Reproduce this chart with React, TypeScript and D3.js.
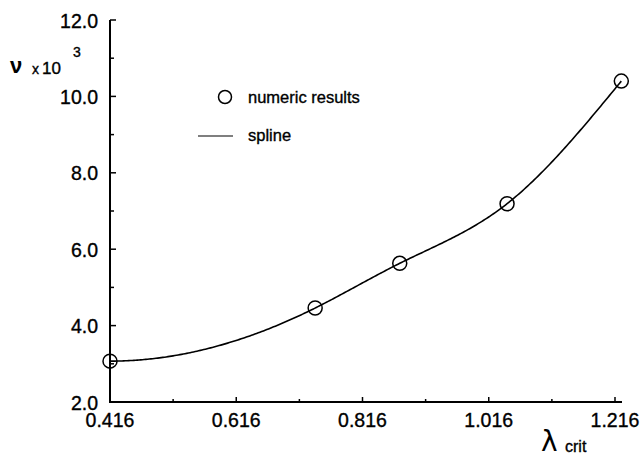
import React from "react";
import * as d3 from "d3";

const xTicks = [0.416, 0.616, 0.816, 1.016, 1.216];
const yTicks = [2.0, 4.0, 6.0, 8.0, 10.0, 12.0];
const lambdaVals = [0.416, 0.741, 0.875, 1.045, 1.226];
const nuVals = [3.07, 4.46, 5.63, 7.19, 10.4];

// cubic spline through the data: zero slope at the left end, natural at the right end
function splineSamples(xs: number[], ys: number[], count: number): [number, number][] {
  const n = xs.length;
  const h = xs.slice(0, -1).map((v, i) => xs[i + 1] - v);
  // build system A M = b (size n)
  const A: number[][] = Array.from({ length: n }, () => new Array(n).fill(0));
  const b: number[] = new Array(n).fill(0);
  A[0][0] = 2 * h[0];
  A[0][1] = h[0];
  b[0] = 6 * ((ys[1] - ys[0]) / h[0] - 0);
  for (let i = 1; i < n - 1; i++) {
    A[i][i - 1] = h[i - 1];
    A[i][i] = 2 * (h[i - 1] + h[i]);
    A[i][i + 1] = h[i];
    b[i] = 6 * ((ys[i + 1] - ys[i]) / h[i] - (ys[i] - ys[i - 1]) / h[i - 1]);
  }
  A[n - 1][n - 1] = 1;
  b[n - 1] = 0;
  // gaussian elimination
  for (let k = 0; k < n; k++) {
    for (let r = k + 1; r < n; r++) {
      const f = A[r][k] / A[k][k];
      if (f === 0) continue;
      for (let c = k; c < n; c++) A[r][c] -= f * A[k][c];
      b[r] -= f * b[k];
    }
  }
  const M = new Array(n).fill(0);
  for (let k = n - 1; k >= 0; k--) {
    let s = b[k];
    for (let c = k + 1; c < n; c++) s -= A[k][c] * M[c];
    M[k] = s / A[k][k];
  }
  const out: [number, number][] = [];
  for (let j = 0; j <= count; j++) {
    const xv = xs[0] + ((xs[n - 1] - xs[0]) * j) / count;
    let i = 0;
    while (i < n - 2 && xv > xs[i + 1]) i++;
    const hi = h[i];
    const a = xs[i + 1] - xv;
    const c = xv - xs[i];
    const yv =
      (M[i] * a * a * a) / (6 * hi) +
      (M[i + 1] * c * c * c) / (6 * hi) +
      (ys[i] / hi - (M[i] * hi) / 6) * a +
      (ys[i + 1] / hi - (M[i + 1] * hi) / 6) * c;
    out.push([xv, yv]);
  }
  return out;
}

export default function App() {
  const W = 641, H = 459;
  const x = d3.scaleLinear().domain([0.416, 1.216]).range([110, 615]);
  const y = d3.scaleLinear().domain([2, 12]).range([402, 20]);
  const pts = lambdaVals.map((v, i) => [x(v), y(nuVals[i])] as [number, number]);
  const samples = splineSamples(lambdaVals, nuVals, 300);
  const line =
    d3
      .line<[number, number]>()
      .x((d) => x(d[0]))
      .y((d) => y(d[1]))(samples) || "";
  const xMinor = xTicks.slice(0, -1).map((t) => t + 0.1);
  const yMinor = yTicks.slice(0, -1).map((t) => t + 1);
  const font = "Liberation Sans, Arial, Helvetica, sans-serif";
  const thick = { stroke: "#000", strokeWidth: 0.35 };
  return (
    <svg width={W} height={H} style={{ position: "absolute", left: 0, top: 0 }} fontFamily={font}>
      <rect width={W} height={H} fill="#fff" />
      {/* axes */}
      <line x1={110} y1={y(12)} x2={110} y2={y(2)} stroke="#000" strokeWidth={2} />
      <line x1={109} y1={y(2)} x2={622} y2={y(2)} stroke="#000" strokeWidth={2} />
      {xTicks.map((t) => (
        <g key={"xt" + t}>
          <line x1={x(t)} x2={x(t)} y1={y(2)} y2={y(2) - 5} stroke="#000" strokeWidth={1.5} />
          <text x={x(t)} y={y(2) + 25} textAnchor="middle" fontSize={19.5} {...thick}>
            {t.toFixed(3)}
          </text>
        </g>
      ))}
      {xMinor.map((t) => (
        <line key={"xm" + t} x1={x(t)} x2={x(t)} y1={y(2)} y2={y(2) - 3} stroke="#000" strokeWidth={1.5} />
      ))}
      {yTicks.map((t) => (
        <g key={"yt" + t}>
          <line x1={110} x2={116} y1={y(t)} y2={y(t)} stroke="#000" strokeWidth={1.5} />
          <text x={98} y={y(t) + 7.5} textAnchor="end" fontSize={19.5} {...thick}>
            {t.toFixed(1)}
          </text>
        </g>
      ))}
      {yMinor.map((t) => (
        <line key={"ym" + t} x1={110} x2={114} y1={y(t)} y2={y(t)} stroke="#000" strokeWidth={1.5} />
      ))}
      {/* y label */}
      <text x={10} y={73} fontSize={22} fontWeight="bold">ν</text>
      <text x={32} y={74} fontSize={14} {...thick}>x</text>
      <text x={42} y={74} fontSize={17} {...thick}>10</text>
      <text x={73} y={57} fontSize={14} {...thick}>3</text>
      {/* x label */}
      <text x={541} y={451} fontSize={28} fontFamily="DejaVu Sans, sans-serif">λ</text>
      <text x={565} y={452} fontSize={16} {...thick}>crit</text>
      {/* spline */}
      <path d={line} fill="none" stroke="#000" strokeWidth={1.6} />
      {pts.map((p, i) => (
        <circle key={i} cx={p[0]} cy={p[1]} r={7} fill="none" stroke="#000" strokeWidth={1.5} />
      ))}
      {/* legend */}
      <circle cx={225} cy={97} r={6.5} fill="none" stroke="#000" strokeWidth={1.5} />
      <text x={248} y={103} fontSize={16.5} {...thick}>numeric results</text>
      <line x1={198} x2={233} y1={136} y2={136} stroke="#000" strokeWidth={1.2} />
      <text x={248} y={141} fontSize={16.5} {...thick}>spline</text>
    </svg>
  );
}
